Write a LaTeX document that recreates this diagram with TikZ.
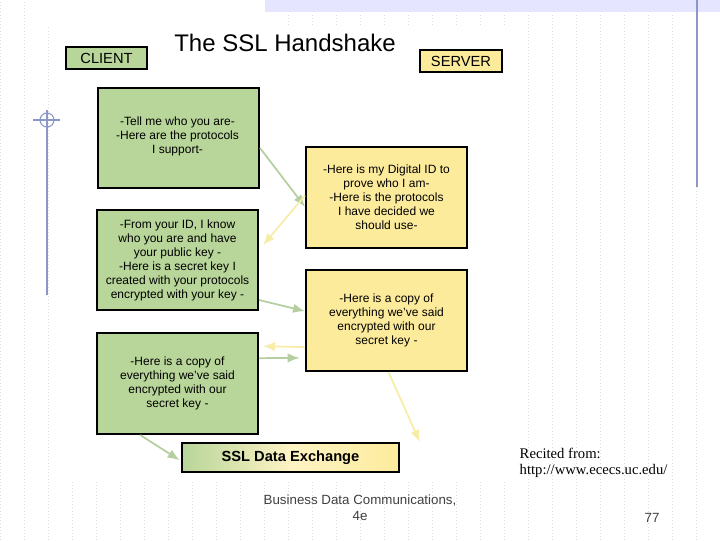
\documentclass[tikz,border=0pt]{standalone}
\usepackage{fontspec}
\setmainfont{Liberation Sans}
\newfontfamily\seriffont{Liberation Serif}
\usetikzlibrary{arrows.meta}
\definecolor{gbox}{HTML}{B8D59A}
\definecolor{ybox}{HTML}{FDEB9C}
\definecolor{garr}{HTML}{B5CFA0}
\definecolor{yarr}{HTML}{F8EDA8}
\definecolor{gridc}{HTML}{D8DCE4}
\definecolor{bluel}{HTML}{8C96C8}
\begin{document}
\begin{tikzpicture}[x=0.75pt,y=-0.75pt,
  box/.style={draw=black,line width=1.5pt,align=center,font=\fontsize{9}{10.5}\selectfont,inner sep=0pt},
  gb/.style={box,fill=gbox},
  yb/.style={box,fill=ybox},
  ga/.style={draw=garr,line width=1.3pt,-{Latex[length=9pt,width=7pt]}},
  ya/.style={draw=yarr,line width=1.3pt,-{Latex[length=9pt,width=7pt]}}]
\useasboundingbox (0,0) rectangle (720,540);
\fill[white] (0,0) rectangle (720,540);
\draw[gridc,dotted,step=24] (0,0) grid (720,540);
\fill[white] (25,0) rectangle (265,25);
\fill[white] (60,25) rectangle (510,480);
\fill[blue!10] (265,0) rectangle (720,12);
\draw[bluel,line width=0.8pt] (697,0) -- (697,187);
\draw[bluel,line width=0.8pt] (47,110) -- (47,295);
\draw[bluel,line width=0.8pt] (33,120) -- (60,120);
\draw[bluel,line width=0.8pt] (40,120) arc (180:360:7);
\draw[bluel,line width=0.8pt] (40,120) arc (180:0:7);
% header
\node[gb,minimum width=81*0.75pt,minimum height=22*0.75pt,font=\fontsize{11}{12}\selectfont] (client) at (106.5,58) {CLIENT};
\node[font=\fontsize{18}{20}\selectfont] (title) at (285,43) {The SSL Handshake};
\node[yb,minimum width=82*0.75pt,minimum height=22*0.75pt,font=\fontsize{11}{12}\selectfont] (server) at (461,61) {SERVER};
% boxes
\node[gb,minimum width=161*0.75pt,minimum height=100*0.75pt,anchor=north west] (g1) at (97,87) {};
\node[align=center,font=\fontsize{9}{10.5}\selectfont,anchor=north] at (177.5,112) {-Tell me who you are-\\-Here are the protocols\\I support-};
\node[yb,minimum width=161*0.75pt,minimum height=101*0.75pt] (y1) at (386.5,197.5) {-Here is my Digital ID to\\prove who I am-\\-Here is the protocols\\I have decided we\\should use-};
\node[gb,minimum width=161*0.75pt,minimum height=100*0.75pt] (g2) at (177.5,260) {-From your ID, I know\\who you are and have\\your public key -\\-Here is a secret key I\\created with your protocols\\encrypted with your key -};
\node[yb,minimum width=161*0.75pt,minimum height=101*0.75pt] (y2) at (386.5,320.5) {-Here is a copy of\\everything we've said\\encrypted with our\\secret key -};
\node[gb,minimum width=161*0.75pt,minimum height=101*0.75pt] (g3) at (177.5,383.5) {-Here is a copy of\\everything we've said\\encrypted with our\\secret key -};
\node[box,left color=gbox,right color=ybox,middle color=ybox!60!white,minimum width=217*0.75pt,minimum height=29*0.75pt,font=\bfseries\fontsize{11}{12}\selectfont] (ssl) at (290.5,457.5) {SSL Data Exchange};
% arrows
\draw[ga] ([yshift=-7.5pt]g1.east) -- ([yshift=-7pt]y1.west);
\draw[ya] ([yshift=1.5pt]y1.west) -- ([xshift=3pt,yshift=11pt]g2.east);
\draw[ga] ([yshift=-30pt]g2.east) -- ([yshift=7pt]y2.west);
\draw[ya] ([yshift=-20pt]y2.west) -- ([xshift=3pt,yshift=28pt]g3.east);
\draw[ga] ([yshift=19pt]g3.east) -- ([xshift=-4pt,yshift=-28pt]y2.west);
\draw[ya] ([xshift=1.5pt]y2.south) -- ([xshift=97pt]ssl.north);
\draw[ga] ([xshift=-28pt]g3.south) -- ([xshift=-1pt,yshift=-2pt]ssl.west);
% footer texts
\node[font=\seriffont\fontsize{11}{12}\selectfont,align=left,anchor=north west] (rec) at (515,443) {Recited from:\\http://www.ececs.uc.edu/};
\node[font=\fontsize{10}{12}\selectfont,text=black!75,align=center] (foot) at (360,508) {Business Data Communications,\\4e};
\node[font=\fontsize{10}{12}\selectfont,text=black!75] (pg) at (652,518) {77};
\end{tikzpicture}
\end{document}
